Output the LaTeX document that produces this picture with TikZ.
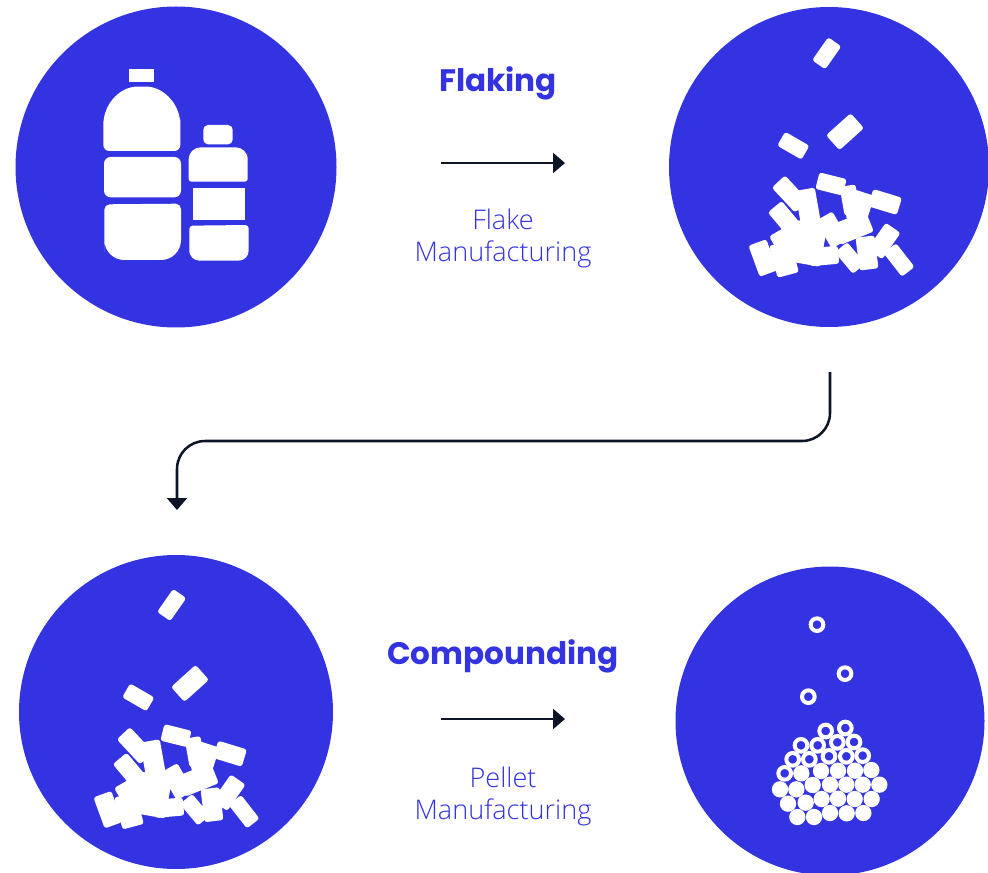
\documentclass[tikz,border=0pt]{standalone}
\usepackage{fontspec}
\setmainfont{Open Sans Light}
\newfontfamily\headfont{Poppins}
\usetikzlibrary{arrows.meta}
\definecolor{plasticblue}{RGB}{52,51,225}
\definecolor{arrowink}{RGB}{13,20,38}
\tikzset{
  stage/.style={circle,fill=plasticblue,inner sep=0pt},
  heading/.style={text=plasticblue,font=\headfont\bfseries\fontsize{23.3}{28}\selectfont},
  caption/.style={text=plasticblue,align=center,font=\fontsize{20.3}{24}\selectfont},
  flow/.style={draw=arrowink,line width=1.9pt,-{Triangle[length=9pt,width=15pt]}},
  flake/.style={fill=white,rounded corners=2pt},
  flakepile/.pic={
    % Each flake: centre x / centre y / length / width / angle
    \foreach \cx/\cy/\len/\wid/\ang in {
        96.7/23.3/28/16/55, 115/101.7/33/20/42, 63.3/115.7/28/16/-30,
        60/164/34/18/-47, 78/177/36/20/100, 101/154/28/17/-14,
        120/170/29/16/100, 130/177/30/21/72, 155/172/30/18/-17,
        55/189/32/18/-50, 102/200/32/19/-60, 123/198/36/22/22,
        58/207/32/20/30, 33/228/33/19/-70, 54/229/33/22/-75,
        76/213/42/36/80, 94/226/29/18/5, 120/228/28/16/-50,
        137/223/33/19/97, 154/211/32/18/55, 169/230/30/16/-52}
      \fill[flake,shift={(\cx,\cy)},rotate=\ang]
        (-\len/2,-\wid/2) rectangle (\len/2,\wid/2);
  }
}
\begin{document}
\begin{tikzpicture}[x=0.75pt,y=-0.75pt]
\useasboundingbox (0,0) rectangle (988,873);
\clip (0,0) rectangle (988,873);

% The four stages
\node[stage,minimum size=240.75pt] (bottles) at (176,167) {};
\node[stage,minimum size=240pt] (flakesTop) at (829,167) {};
\node[stage,minimum size=235.5pt] (flakesLow) at (176,712) {};
\node[stage,minimum size=231.75pt] (pellets) at (830,721) {};

% Large bottle
\begin{scope}[shift={(80,50)},scale=1/3]
\fill[white] (148,57) rectangle (221,97);
\fill[white,rounded corners=4.5pt] (70,303) -- (301,303) -- (301,225)
    [sharp corners] -- (301,225) .. controls (301,165) and (255,115) .. (205,110)
    -- (165,110) .. controls (115,115) and (70,165) .. (70,225)
    [rounded corners=4.5pt] -- cycle;
\fill[white,rounded corners=5pt] (72,321) rectangle (303,442);
\fill[white,rounded corners=4pt] (73,545) -- (73,463) -- (303,461) -- (303,545)
    [rounded corners=15pt] -- (303,630) -- (73,630) -- cycle;

% Small bottle
\fill[white,rounded corners=3.5pt] (370,225) rectangle (458,283);
\fill[white,rounded corners=9pt] (326,345) -- (326,292) -- (503,292) -- (503,345)
    [rounded corners=2pt] -- (503,395) -- (326,395) -- cycle;
\fill[white] (338,413) rectangle (495,509);
\fill[white,rounded corners=2.5pt] (328,580) -- (328,527) -- (506,525) -- (506,580)
    [rounded corners=7.5pt] -- (506,632) -- (328,632) -- cycle;
\end{scope}

% Flakes
\pic at (730,30) {flakepile};
\pic at (75,581.7) {flakepile};

% Pellets
\begin{scope}[shift={(750,600)},scale=1/3]
\foreach \cx/\cy in {201/74, 285/221, 175/290, 227/393, 286/384, 153/436,
    203/436, 262/427, 312/426, 128/478, 178/478, 237/469, 289/469, 338/467, 104/520}
  \draw[white,line width=3pt] (\cx,\cy) circle (19);
\foreach \cx/\cy in {154/520, 213/513, 264/512, 315/512, 364/510,
    90/568, 139/568, 188/555, 240/554, 289/554, 338/554, 388/554,
    114/611, 167/608, 215/597, 264/596, 314/597, 365/597,
    142/651, 192/651, 240/639, 290/640, 340/639}
  \fill[white] (\cx,\cy) circle (24.5);
\end{scope}

% Labels
\node[heading] (flaking) at (498,83) {Flaking};
\node[caption] (flakeMade) at (503,238) {Flake\\Manufacturing};
\node[heading] (compounding) at (503,656) {Compounding};
\node[caption] (pelletMade) at (503,796) {Pellet\\Manufacturing};

% Arrows
\coordinate (flakingFrom) at (441,163);
\coordinate (flakingTo) at (565,163);
\draw[flow] (flakingFrom) -- (flakingTo);
\coordinate (compoundFrom) at (441,719);
\coordinate (compoundTo) at (565,719);
\draw[flow] (compoundFrom) -- (compoundTo);
\coordinate (turnFrom) at (830,372);
\coordinate (turnMid) at (177,441);
\coordinate (turnTo) at (177,510);
\draw[flow,rounded corners=21pt] (turnFrom) |- (turnMid) -- (turnTo);
\end{tikzpicture}
\end{document}
